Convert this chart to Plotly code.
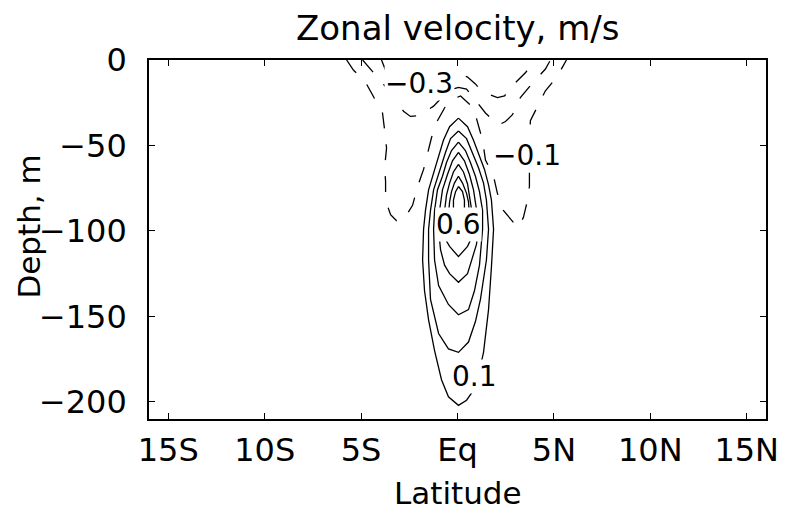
import plotly.graph_objects as go

# ---------------- data ----------------
lat_ticks = [-15, -10, -5, 0, 5, 10, 15]
lat_labels = ["15S", "10S", "5S", "Eq", "5N", "10N", "15N"]
depth_ticks = [0, -50, -100, -150, -200]

# positive (eastward) contours, solid
u01_lat = [0.05, -0.41, -0.73, -0.98, -1.24, -1.50, -1.66, -1.76, -1.81, -1.71, -1.50, -1.19, -0.83, -0.47, 0.05,
           0.47, 0.78, 1.09, 1.35, 1.61, 1.76, 1.87, 1.76, 1.61, 1.40, 1.14, 0.83, 0.52, 0.05]
u01_dep = [-34, -39, -47, -56, -66, -76, -88, -99, -117, -135, -152, -170, -187, -197, -202,
           -199, -194, -184, -171, -146, -121, -99, -82, -73, -64, -56, -47, -39, -34]

u02_lat = [0.05, -0.36, -0.62, -0.88, -1.09, -1.24, -1.40, -1.50, -1.50, -1.40, -0.98, -0.47, 0.05,
           0.57, 0.93, 1.19, 1.50, 1.61, 1.50, 1.35, 1.09, 0.78, 0.47, 0.05]
u02_dep = [-41.5, -46, -54, -63, -70, -76, -88, -99, -117, -140, -160, -169, -171,
           -165, -153, -140, -117, -99, -82, -72, -63, -54, -46, -41.5]

u03_lat = [0.05, -0.31, -0.57, -0.78, -1.04, -1.19, -1.24, -1.19, -0.98, -0.47, 0.05,
           0.57, 0.88, 1.14, 1.30, 1.30, 1.14, 0.93, 0.67, 0.41, 0.05]
u03_dep = [-48, -53, -60, -68, -76, -88, -99, -117, -132, -143, -149,
           -146, -135, -120, -99, -88, -77, -68, -60, -53, -48]

u04_lat = [0.05, -0.26, -0.52, -0.78, -0.93, -0.98, -0.88, -0.67, -0.41, 0.05,
           0.52, 0.78, 0.98, 1.09, 0.98, 0.83, 0.62, 0.36, 0.05]
u04_dep = [-54, -59, -67, -76, -88, -99, -111, -120, -125, -130,
           -125, -116, -108, -99, -87, -76, -67, -59, -54]

u05_lat = [0.05, -0.21, -0.41, -0.57, -0.67, -0.73, -0.62, -0.41, 0.05,
           0.52, 0.73, 0.78, 0.78, 0.67, 0.52, 0.31, 0.05]
u05_dep = [-61, -65.5, -72, -79, -88, -99, -105, -109, -115,
           -109, -104, -98, -91, -82, -72.5, -65.5, -61]

u06_lat = [0.05, -0.16, -0.31, -0.41, -0.47, -0.36, 0.05, 0.41, 0.62, 0.57, 0.47, 0.26, 0.05]
u06_dep = [-68, -72, -77, -83, -91, -97, -101, -97, -91, -83, -78, -72, -68]

u07_lat = [0.05, -0.10, -0.21, -0.21, -0.10, 0.05, 0.26, 0.36, 0.36, 0.26, 0.05]
u07_dep = [-74, -77, -82, -88, -92, -94, -92, -88, -82, -77, -74]

# negative (westward) contours, dashed
m01_lat = [-5.75, -5.39, -4.82, -4.35, -3.89, -3.78, -3.68, -3.78, -3.73, -3.73, -3.47, -3.16, -2.80, -2.33,
           -2.07, -1.76, -1.55, -1.35, -1.04, -0.62, -0.26, 0.16, 0.83, 1.09, 1.30, 1.45, 1.87, 2.07, 2.38,
           2.90, 3.16, 3.42, 3.63, 3.73, 3.73, 3.78, 4.15, 4.56, 5.18, 5.65]
m01_dep = [0, -6, -12, -22, -31, -41, -51.5, -63, -71, -82, -90.5, -94, -93.5, -85,
           -74, -64, -54, -45.5, -35.5, -27, -23, -21, -28, -38, -47, -58.5, -68, -78, -88,
           -95, -98, -92, -82, -74, -58.5, -35.5, -27, -18, -9.5, 0]

m02_lat = [-4.92, -4.56, -3.99, -3.32, -2.80, -2.44, -1.97, -1.24, -0.78, -0.36, 0.05, 0.47, 0.93,
           1.45, 2.12, 2.49, 2.85, 3.26, 3.89, 4.56, 4.82]
m02_dep = [0, -4.7, -12, -21, -30, -33, -32.5, -27, -21.5, -17.5, -16, -17, -23.5,
           -31, -38, -36, -32, -22, -13.5, -5.3, 0]

m03_lat = [-3.94, -3.73, -3.37, -2.69, -1.92, -0.88, -0.21, 0.16, 0.52, 0.93, 1.19, 1.71, 2.07,
           2.44, 2.85, 3.52, 4.04]
m03_dep = [0, -6, -9, -12, -13.5, -12, -9, -8, -10, -14, -17.5, -20.5, -22,
           -21, -15, -7.5, 0]

# contour labels: text, latitude, depth
lab_text = ["\u22120.3", "\u22120.1", "0.6", "0.1"]
lab_lat = [-2.02, 3.63, 0.05, 0.88]
lab_dep = [-14.0, -56.0, -96.5, -185.0]

# ---------------- figure ----------------
FONT = "DejaVu Sans"
fig = go.Figure()

solid = [(u01_lat, u01_dep), (u02_lat, u02_dep), (u03_lat, u03_dep), (u04_lat, u04_dep),
         (u05_lat, u05_dep), (u06_lat, u06_dep), (u07_lat, u07_dep)]
for la, de in solid:
    fig.add_trace(go.Scatter(x=la, y=de, mode="lines", line=dict(color="black", width=1.3),
                             hoverinfo="skip", showlegend=False))

dashed = [(m01_lat, m01_dep), (m02_lat, m02_dep), (m03_lat, m03_dep)]
for la, de in dashed:
    fig.add_trace(go.Scatter(x=la, y=de, mode="lines",
                             line=dict(color="black", width=1.3, dash="16px,16px"),
                             hoverinfo="skip", showlegend=False))

for t, la, de in zip(lab_text, lab_lat, lab_dep):
    fig.add_annotation(x=la, y=de, text=t, showarrow=False, bgcolor="white", borderpad=0,
                       font=dict(family=FONT, size=28, color="black"))

fig.add_annotation(xref="paper", yref="paper", x=0.5, y=1.088, text="Zonal velocity, m/s",
                   showarrow=False, xanchor="center", yanchor="middle",
                   font=dict(family=FONT, size=34, color="black"))
fig.add_annotation(xref="paper", yref="paper", x=0.5, y=-0.206, text="Latitude",
                   showarrow=False, xanchor="center", yanchor="middle",
                   font=dict(family=FONT, size=31, color="black"))
fig.add_annotation(xref="paper", yref="paper", x=-0.195, y=0.535, text="Depth, m", textangle=-90,
                   showarrow=False, xanchor="center", yanchor="middle",
                   font=dict(family=FONT, size=31, color="black"))

axis_common = dict(showgrid=False, zeroline=False, showline=True, linecolor="black", linewidth=1.6,
                   mirror="ticks", ticks="inside", ticklen=6, tickwidth=1.3, tickcolor="black",
                   tickfont=dict(family=FONT, size=32, color="black"))
fig.update_xaxes(range=[-16, 16], tickvals=lat_ticks, ticktext=lat_labels, ticklabelstandoff=2,
                 **axis_common)
fig.update_yaxes(range=[-210, 0], tickvals=depth_ticks, ticklabelstandoff=14, **axis_common)

fig.update_layout(width=790, height=513, margin=dict(l=149, r=24, t=60, b=94),
                  paper_bgcolor="white", plot_bgcolor="white")

fig.write_html("out.html")
